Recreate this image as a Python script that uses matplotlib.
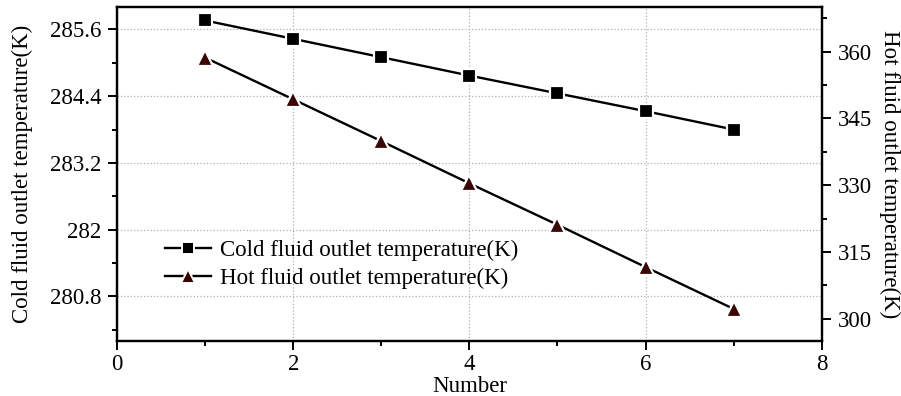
import matplotlib.pyplot as plt
from matplotlib.ticker import MultipleLocator
import numpy as np

plt.rcParams['font.family'] = ['Liberation Serif', 'DejaVu Serif']
plt.rcParams['mathtext.fontset'] = 'stix'

# Data
number = [1, 2, 3, 4, 5, 6, 7]
cold_out = [285.76, 285.43, 285.10, 284.77, 284.45, 284.13, 283.80]
hot_out = [358.65, 349.28, 339.89, 330.40, 321.10, 311.60, 302.20]

cold_label = "Cold fluid outlet temperature(K)"
hot_label = "Hot fluid outlet temperature(K)"
hot_color = "#3a0505"
fs = 16.5

fig, ax = plt.subplots(figsize=(9.01, 3.96), dpi=100)
fig.subplots_adjust(left=0.13, right=0.912, top=0.982, bottom=0.139)
ax2 = ax.twinx()

# lines with white-edged markers to give the small gaps around each marker
ax.plot(number, cold_out, color="black", lw=1.7, zorder=2)
ax.plot(number, cold_out, ls="none", marker="s", ms=10.5, mfc="black",
        mec="white", mew=1.6, zorder=3)
ax2.plot(number, hot_out, color="black", lw=1.7, zorder=2)
ax2.plot(number, hot_out, ls="none", marker="^", ms=12, mfc=hot_color,
         mec="white", mew=1.6, zorder=3)

ax.set_xlim(0, 8)
ax.set_ylim(280.0, 286.0)
ax2.set_ylim(295, 370)

ax.xaxis.set_major_locator(MultipleLocator(2))
ax.xaxis.set_minor_locator(MultipleLocator(1))
ax.yaxis.set_major_locator(MultipleLocator(1.2))
ax.yaxis.set_minor_locator(MultipleLocator(0.6))
ax2.yaxis.set_major_locator(MultipleLocator(15))
ax2.yaxis.set_minor_locator(MultipleLocator(7.5))

ax.set_yticks([280.8, 282.0, 283.2, 284.4, 285.6])
ax.set_yticklabels(["280.8", "282", "283.2", "284.4", "285.6"])
ax2.set_yticks([300, 315, 330, 345, 360])

for a in (ax, ax2):
    a.tick_params(which="major", length=6.5, width=1.4, labelsize=fs,
                  direction="out", pad=5)
    a.tick_params(which="minor", length=3.6, width=1.4, direction="out")
    for s in a.spines.values():
        s.set_linewidth(1.6)
ax.tick_params(axis="x", which="major", pad=3)

ax.grid(True, which="major", ls=":", color="#b0b0b0", lw=0.9)
ax.set_axisbelow(True)

ax.set_xlabel("Number", fontsize=fs, labelpad=0.5)
ax.set_ylabel(cold_label, fontsize=fs, labelpad=12)
ax2.set_ylabel(hot_label, fontsize=fs, rotation=270, labelpad=20)

h1 = plt.Line2D([], [], color="black", lw=1.7, marker="s", ms=9, mfc="black", mec="white", mew=1.4)
h2 = plt.Line2D([], [], color="black", lw=1.7, marker="^", ms=10, mfc=hot_color, mec="white", mew=1.4)
ax2.legend([h1, h2], [cold_label, hot_label], loc="upper left",
           bbox_to_anchor=(0.055, 0.33), frameon=False, fontsize=fs,
           handlelength=2.0, handletextpad=0.4, labelspacing=0.28,
           borderaxespad=0)

fig.savefig("out.png", dpi=100)
